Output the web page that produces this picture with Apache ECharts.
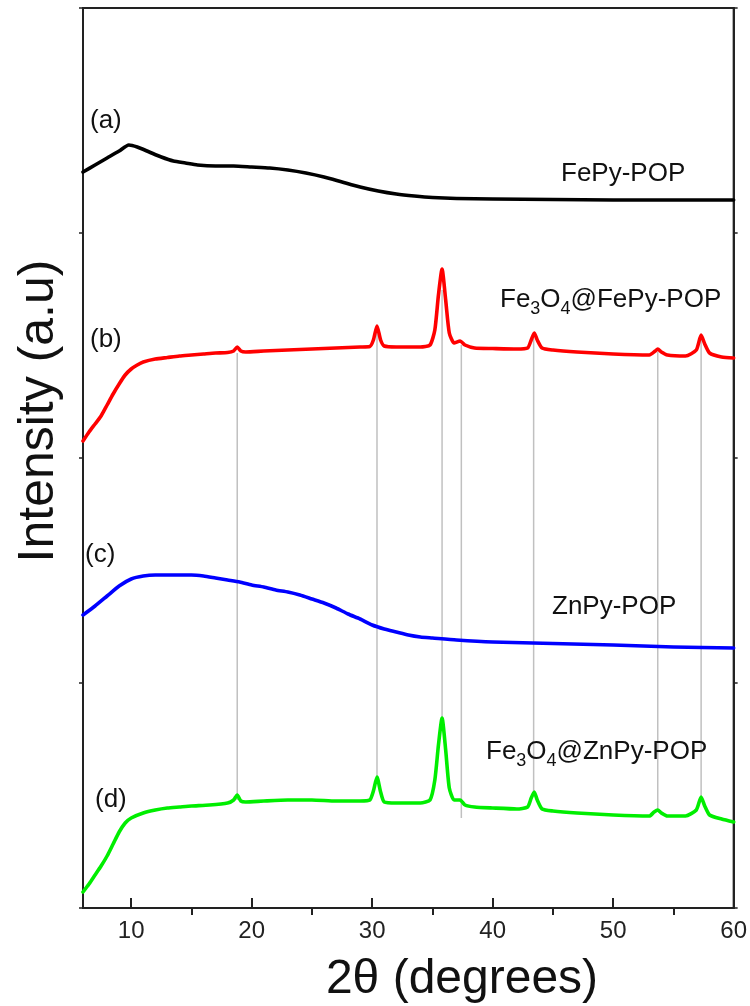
<!DOCTYPE html>
<html>
<head>
<meta charset="utf-8">
<script src="https://cdn.jsdelivr.net/npm/echarts@6/dist/echarts.min.js"></script>
<style>
html,body{margin:0;padding:0;background:#fff;}
#chart{width:750px;height:1006px;}
</style>
</head>
<body>
<div id="chart"></div>
<script>
// 2θ (degrees) vs intensity (a.u., offset curves)
const xTicks = [10, 20, 30, 40, 50, 60];
const xMinorTicks = [15, 25, 35, 45, 55];

const curveA = [ // FePy-POP (black)
  [6,736],[7,743],[8,750],[9,757],[9.8,763],[10.5,761],[11.5,756],[12.5,751],[13.5,747],[14.5,745],
  [15.5,743],[17,742],[18.5,742],[20,741],[21.5,740],[23,738],[24.5,735],[26,731],[27.5,726],[29,721],
  [30.5,717],[32,714],[33.5,712],[35,710.5],[37,709.5],[40,709],[45,708.5],[50,708],[55,708],[60,708]
];
const curveB = [ // Fe3O4@FePy-POP (red)
  [6,467],[6.5,476],[7,484],[7.5,492],[8,503],[8.5,514],[9,524],[9.5,533],[10,539],[10.5,543],
  [11,546],[12,549],[13,550.5],[14,552],[15,553],[16,554],[17,555],[18,555.5],[18.5,557],[18.8,561],
  [19.1,557],[19.5,556],[21,557],[23,558],[25,559],[27,560],[29,561],[29.8,561.5],[30.1,568],[30.4,582],
  [30.7,568],[31,562],[32,561],[33,561],[34,561],[34.8,563],[35.2,578],[35.5,613],[35.8,639],[36.1,608],
  [36.4,575],[36.8,565],[37.3,567],[37.7,563],[38.5,560],[40,559.5],[42,559],[42.9,560],[43.2,568],[43.45,575],
  [43.7,568],[44.1,560],[45,558],[47,556],[50,554],[53,553],[53.5,557],[53.7,559],[54,556],[54.5,553],
  [56,552],[56.9,558],[57.3,573],[57.6,564],[58,555],[59,551],[60,550]
];
const curveC = [ // ZnPy-POP (blue)
  [6,293],[7,302],[8,312],[9,322],[10,329],[11,332],[12,333],[13,333],[14,333],[15,333],
  [16,332],[17,330],[18,328],[19,326],[20,323],[21,321],[22,318],[23,316],[24,313],[25,309],
  [26,305],[27,300],[28,294],[29,289],[30,283],[31,279],[32,276],[33,273],[34,271],[35,270],
  [37,268],[40,266],[45,264.5],[50,263],[55,261],[60,260]
];
const curveD = [ // Fe3O4@ZnPy-POP (green)
  [6,16],[6.5,24],[7,33],[7.5,42],[8,52],[8.5,64],[9,76],[9.5,85],[10,90],[11,95],
  [12,98],[13,100],[14,101],[15,102],[16.5,103],[18,105],[18.5,108],[18.8,113],[19.1,107],[19.5,106],
  [21,107],[23,108],[25,108],[27,107],[29,107],[29.8,108],[30.1,117],[30.4,131],[30.7,116],[31,106],
  [32,105],[33,105],[34,105],[34.8,108],[35.2,128],[35.5,163],[35.8,190],[36.1,158],[36.4,120],[36.8,108],
  [37.3,108],[37.7,103],[38.5,101],[40,100],[42,99],[42.9,101],[43.2,110],[43.45,116],[43.7,108],[44.1,99],
  [45,97],[47,95],[50,93],[53,92],[53.4,96],[53.7,98],[54,95],[54.5,92],[56,92],[56.9,98],
  [57.3,111],[57.6,102],[58,93],[59,89],[60,86]
];
// Fe3O4 reference peak guide lines
const refPeaks  = [18.8, 30.4, 35.8, 37.4, 43.4, 53.7, 57.3];
const refTop    = [555, 578, 618, 563, 570, 556, 568];
const refBottom = [108, 130, 188, 90, 113, 96, 108];

const chart = echarts.init(document.getElementById('chart'), null, {renderer: 'canvas'});
const FONT = 'Liberation Sans, Arial, sans-serif';
const axisColor = '#222';

const refSeries = refPeaks.map((p, i) => ({
  type: 'line', silent: true, symbol: 'none', z: 1,
  lineStyle: {color: '#c0c0c0', width: 1.5},
  data: [[p, refBottom[i]], [p, refTop[i]]]
}));

function curve(data, color) {
  return {type: 'line', symbol: 'none', z: 3, data: data,
    smooth: 0.2,
    lineStyle: {color: color, width: 3.6, join: 'round', cap: 'round'}};
}

const subRich = {
  m: {fontSize: 26, lineHeight: 36, fontFamily: FONT, fill: '#111'},
  s: {fontSize: 18, lineHeight: 18, verticalAlign: 'bottom', fontFamily: FONT, fill: '#111'}
};
function txt(x, y, text, size) {
  return {type: 'text', x: x, y: y, z: 10,
    style: {text: text, fontSize: size, fontFamily: FONT, fill: '#111',
      align: 'left', verticalAlign: 'middle'}};
}

chart.setOption({
  animation: false,
  backgroundColor: '#fff',
  grid: {left: 83, right: 13, top: 8, bottom: 98, show: true, borderColor: axisColor, borderWidth: 2, backgroundColor: 'transparent'},
  xAxis: [{
    type: 'value', min: 6, max: 60, position: 'bottom',
    axisLine: {show: true, lineStyle: {color: axisColor, width: 2}},
    axisTick: {show: true, inside: true, length: 10, customValues: xTicks, lineStyle: {color: axisColor, width: 2}},
    axisLabel: {show: true, customValues: xTicks, fontSize: 24, fontFamily: FONT, color: '#222', margin: 11},
    splitLine: {show: false}
  }, {
    type: 'value', min: 6, max: 60, position: 'bottom',
    axisLine: {show: false},
    axisTick: {show: true, inside: false, length: 7, customValues: xMinorTicks, lineStyle: {color: axisColor, width: 2}},
    axisLabel: {show: false},
    splitLine: {show: false}
  }],
  yAxis: [{
    type: 'value', min: 0, max: 900, interval: 225, position: 'left',
    axisLine: {show: true, lineStyle: {color: axisColor, width: 2}},
    axisTick: {show: true, inside: false, length: 4, lineStyle: {color: axisColor, width: 1.5}},
    axisLabel: {show: false}, splitLine: {show: false}
  }, {
    type: 'value', min: 0, max: 900, interval: 225, position: 'right',
    axisLine: {show: true, lineStyle: {color: axisColor, width: 2}},
    axisTick: {show: true, inside: false, length: 4, lineStyle: {color: axisColor, width: 1.5}},
    axisLabel: {show: false}, splitLine: {show: false}
  }],
  series: refSeries.concat([
    curve(curveA, '#000000'),
    curve(curveB, '#ff0000'),
    curve(curveC, '#0000ff'),
    curve(curveD, '#00ee00')
  ]),
  graphic: [
    txt(90, 121, '(a)', 26),
    txt(90, 340, '(b)', 26),
    txt(85, 555, '(c)', 26),
    txt(95, 800, '(d)', 26),
    txt(561, 174, 'FePy-POP', 26),
    txt(552, 607, 'ZnPy-POP', 26),
    {type: 'text', x: 500, y: 300, z: 10, style: {
      text: '{m|Fe}{s|3}{m|O}{s|4}{m|@FePy-POP}', rich: subRich, fontFamily: FONT,
      align: 'left', verticalAlign: 'middle'}},
    {type: 'text', x: 486, y: 752, z: 10, style: {
      text: '{m|Fe}{s|3}{m|O}{s|4}{m|@ZnPy-POP}', rich: subRich, fontFamily: FONT,
      align: 'left', verticalAlign: 'middle'}},
    {type: 'text', x: 462, y: 980, z: 10, style: {
      text: '2\u03b8 (degrees)', fontSize: 48, fontFamily: FONT, fill: '#111',
      align: 'center', verticalAlign: 'middle'}},
    {type: 'text', x: 39, y: 411, rotation: Math.PI / 2, z: 10, style: {
      text: 'Intensity (a.u)', fontSize: 50, fontFamily: FONT, fill: '#111',
      align: 'center', verticalAlign: 'middle'}}
  ]
});
</script>
</body>
</html>
